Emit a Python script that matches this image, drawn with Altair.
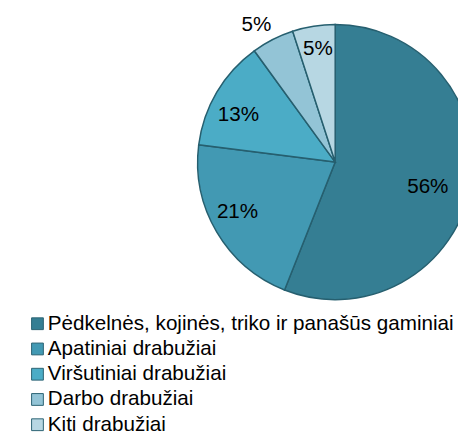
import altair as alt
import pandas as pd

categories = [
    "Pėdkelnės, kojinės, triko ir panašūs gaminiai",
    "Apatiniai drabužiai",
    "Viršutiniai drabužiai",
    "Darbo drabužiai",
    "Kiti drabužiai",
]
shares = [56, 21, 13, 5, 5]
labels = ["56%", "21%", "13%", "5%", "5%"]
colors = ["#357E93", "#4299B3", "#4BACC6", "#93C4D6", "#B7D7E3"]

df = pd.DataFrame({
    "category": categories,
    "share": shares,
    "label": labels,
    "idx": list(range(len(categories))),
})

theta_scale = alt.Scale(domain=[0, 100], range=[0, 6.283185307179586])

base = alt.Chart(df).transform_window(
    cum="sum(share)", sort=[alt.SortField("idx", order="ascending")]
).transform_calculate(
    start="datum.cum - datum.share",
    mid="datum.cum - datum.share / 2",
)

arcs = base.mark_arc(radius=140, stroke="#265F6F", strokeWidth=1.5).encode(
    theta=alt.Theta("start:Q", scale=theta_scale),
    theta2="cum:Q",
    color=alt.Color(
        "category:N",
        scale=alt.Scale(domain=categories, range=colors),
        sort=categories,
        legend=alt.Legend(
            title=None,
            orient="none",
            legendX=-188.5,
            legendY=294,
            symbolType="square",
            symbolSize=144,
            symbolStrokeColor="#2B6272",
            symbolStrokeWidth=1,
            symbolOpacity=1,
            labelFontSize=21,
            labelFont="Liberation Sans",
            labelColor="black",
            labelLimit=0,
            rowPadding=3.7,
            labelOffset=0,
            padding=0,
        ),
    ),
)

txt = dict(fontSize=21, font="Liberation Sans", color="black", align="center", baseline="middle")


def label_layer(i, r, dx, dy):
    return base.transform_filter(alt.datum.idx == i).mark_text(
        radius=r, dx=dx, dy=dy, **txt
    ).encode(theta=alt.Theta("mid:Q", scale=theta_scale), text="label:N")


layers = [
    label_layer(0, 98, -2, 7),
    label_layer(1, 112, -3, -6),
    label_layer(2, 112, -2, 9),
    label_layer(3, 159, -8, 2),
    label_layer(4, 112, 0, -4),
]

chart = alt.layer(arcs, *layers).properties(
    width=250,
    height=280,
    autosize=alt.AutoSizeParams(type="none"),
    padding={"left": 208, "top": 13, "right": 0, "bottom": 138},
).configure_view(stroke=None)

chart.save("out.html", embed_options={"renderer": "svg", "actions": False})
